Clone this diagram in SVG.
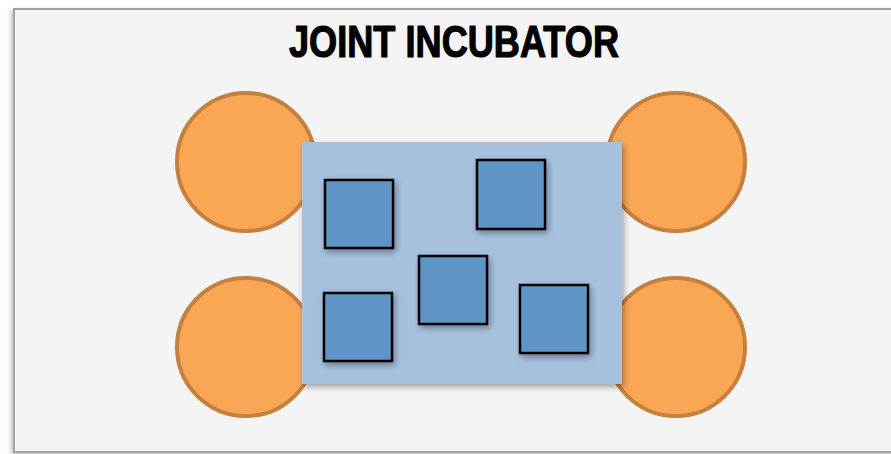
<svg xmlns="http://www.w3.org/2000/svg" width="891" height="454" viewBox="0 0 891 454">
<defs>
<style>
.circ{fill:#f9a755;stroke:#c5803e;stroke-width:4}
.sq{fill:#5f94c6;stroke:#000;stroke-width:2.5}
.title{font-family:"Liberation Sans",Arial,sans-serif;font-weight:bold;font-size:44px;fill:#000;stroke:#000;stroke-width:1.2;stroke-linejoin:round}
</style>
<filter id="sh" x="-20%" y="-20%" width="140%" height="140%">
<feGaussianBlur in="SourceAlpha" stdDeviation="3"/>
<feOffset dx="2" dy="3" result="b"/>
<feComponentTransfer><feFuncA type="linear" slope="0.35"/></feComponentTransfer>
<feMerge><feMergeNode/><feMergeNode in="SourceGraphic"/></feMerge>
</filter>
<filter id="fsh" x="-5%" y="-5%" width="110%" height="110%">
<feGaussianBlur in="SourceAlpha" stdDeviation="2.5"/>
<feOffset dx="-2" dy="2"/>
<feComponentTransfer><feFuncA type="linear" slope="0.25"/></feComponentTransfer>
<feMerge><feMergeNode/><feMergeNode in="SourceGraphic"/></feMerge>
</filter>
</defs>
<rect x="0" y="0" width="891" height="454" fill="#ffffff"/>
<g id="frame">
<rect x="14" y="9" width="900" height="443" fill="#f4f4f4" stroke="#a2a2a2" stroke-width="2" filter="url(#fsh)"/>
</g>
<g id="title">
<text class="title" x="454" y="57" text-anchor="middle" textLength="330" lengthAdjust="spacingAndGlyphs">JOINT INCUBATOR</text>
</g>
<g id="circle-tl"><circle class="circ" cx="246" cy="162" r="69"/></g>
<g id="circle-bl"><circle class="circ" cx="246" cy="347" r="69"/></g>
<g id="circle-tr"><circle class="circ" cx="676" cy="162" r="69"/></g>
<g id="circle-br"><circle class="circ" cx="676" cy="347" r="69"/></g>
<g id="incubator"><rect x="302" y="142" width="320" height="242" fill="#a6c0de" filter="url(#sh)"/></g>
<g id="sq1"><rect class="sq" x="325" y="180" width="68" height="68" filter="url(#sh)"/></g>
<g id="sq2"><rect class="sq" x="477" y="160" width="68" height="69" filter="url(#sh)"/></g>
<g id="sq3"><rect class="sq" x="419" y="256" width="68" height="68" filter="url(#sh)"/></g>
<g id="sq4"><rect class="sq" x="324" y="293" width="68" height="68" filter="url(#sh)"/></g>
<g id="sq5"><rect class="sq" x="520" y="285" width="68" height="68" filter="url(#sh)"/></g>
<g id="connectors"></g>
</svg>
